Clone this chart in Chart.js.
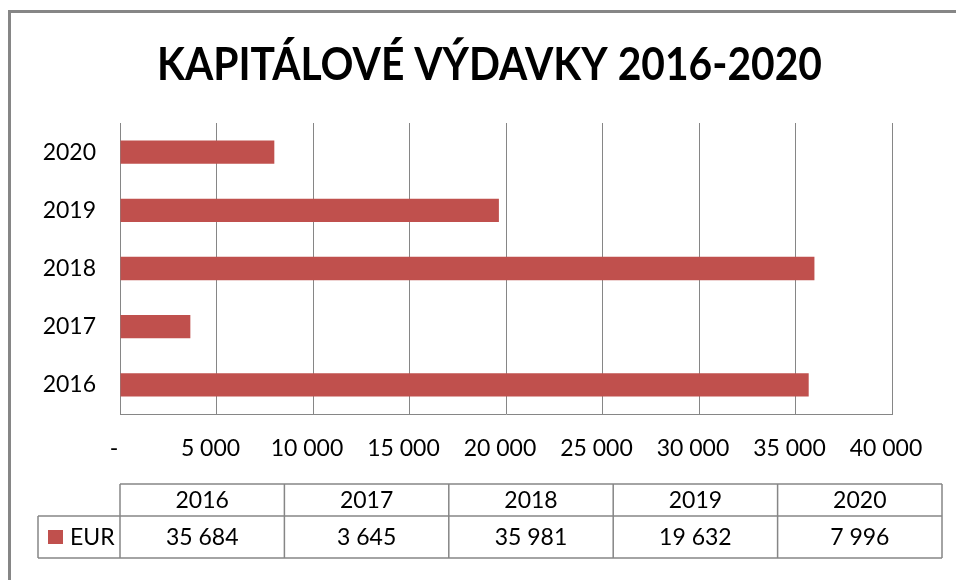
<!DOCTYPE html>
<html lang="sk">
<head>
  <meta charset="UTF-8">
  <title>Kapitálové výdavky 2016-2020</title>
  <script src="https://cdn.jsdelivr.net/npm/chart.js"></script>
  <style>
    * { box-sizing: border-box; }
    body { margin:0; padding:0; background:#fff; }
    #wrap { position:relative; width:956px; height:580px; }
  </style>
</head>
<body>
  <div id="wrap"><canvas id="chart"></canvas></div>

  <script>
    // data
    const title = 'KAPITÁLOVÉ VÝDAVKY 2016-2020';
    const years = ['2016', '2017', '2018', '2019', '2020'];
    const eur = [35684, 3645, 35981, 19632, 7996];
    const seriesName = 'EUR';
    const xMax = 40000;
    const xStep = 5000;

    const barColor = '#C0504D';
    const lineColor = '#868686';
    const font = 'Lato, "Open Sans", sans-serif';

    const fmt = v => v === 0 ? '-' : String(v).replace(/\B(?=(\d{3})+(?!\d))/g, ' ');

    // outer frame + title
    const framePlugin = {
      id: 'frame',
      beforeDraw(chart) {
        const c = chart.ctx;
        c.save();
        c.fillStyle = '#fff';
        c.fillRect(0, 0, chart.width, chart.height);
        c.strokeStyle = lineColor;
        c.lineWidth = 3;
        c.strokeRect(9.5, 11.5, 2000, 2000);
        c.restore();
      },
      afterDraw(chart) {
        const c = chart.ctx;
        c.save();
        c.font = 'bold 45px ' + font;
        c.fillStyle = '#000';
        c.textBaseline = 'alphabetic';
        const w = c.measureText(title).width;
        const target = 665;
        c.translate(157, 80);
        c.scale(target / w, 1);
        c.fillText(title, 0, 0);
        c.restore();
      }
    };

    // data table under the axis
    const tablePlugin = {
      id: 'datatable',
      afterDraw(chart) {
        const c = chart.ctx;
        const left = chart.chartArea.left;
        const right = 942;
        const top = 484, mid = 516, bottom = 558;
        const legLeft = 38;
        const n = chart.data.labels.length;
        const colW = (right - left) / n;
        const ds = chart.data.datasets[0];

        c.save();
        c.strokeStyle = lineColor;
        c.lineWidth = 1.5;
        c.beginPath();
        c.moveTo(left, top); c.lineTo(right, top);
        c.moveTo(legLeft, mid); c.lineTo(right, mid);
        c.moveTo(legLeft, bottom); c.lineTo(right, bottom);
        c.moveTo(legLeft, mid); c.lineTo(legLeft, bottom);
        for (let i = 0; i <= n; i++) {
          const x = left + colW * i;
          c.moveTo(x, top); c.lineTo(x, bottom);
        }
        c.stroke();

        c.fillStyle = '#000';
        c.font = '23px ' + font;
        c.textAlign = 'center';
        c.textBaseline = 'middle';
        for (let i = 0; i < n; i++) {
          const x = left + colW * (i + 0.5);
          c.fillText(chart.data.labels[i], x, (top + mid) / 2 + 1);
          c.fillText(fmt(ds.data[i]), x, (mid + bottom) / 2 + 1);
        }

        c.fillStyle = ds.backgroundColor;
        c.fillRect(48, 530, 15, 14);
        c.fillStyle = '#000';
        c.textAlign = 'left';
        c.fillText(ds.label, 70, (mid + bottom) / 2 + 1);
        c.restore();
      }
    };

    new Chart(document.getElementById('chart'), {
      type: 'bar',
      data: {
        labels: years,
        datasets: [{
          label: seriesName,
          data: eur,
          backgroundColor: barColor,
          barPercentage: 0.4,
          categoryPercentage: 1
        }]
      },
      options: {
        indexAxis: 'y',
        responsive: true,
        maintainAspectRatio: false,
        animation: false,
        layout: { padding: { top: 123, right: 64, left: 0, bottom: 0 } },
        plugins: {
          legend: { display: false },
          title: { display: false },
          tooltip: { enabled: false }
        },
        scales: {
          x: {
            min: 0, max: xMax,
            ticks: {
              stepSize: xStep,
              padding: 21,
              labelOffset: -6,
              color: '#000',
              font: { family: font, size: 23 },
              callback: v => fmt(v),
              maxRotation: 0
            },
            grid: { color: lineColor, lineWidth: 1, drawTicks: false },
            border: { display: true, color: lineColor, width: 1 },
            afterFit: s => { s.height = 166; }
          },
          y: {
            reverse: true,
            ticks: {
              padding: 24,
              color: '#000',
              font: { family: font, size: 23 }
            },
            grid: { display: false, drawTicks: false },
            border: { display: true, color: lineColor, width: 1 },
            afterFit: s => { s.width = 120; }
          }
        }
      },
      plugins: [framePlugin, tablePlugin]
    });
  </script>
</body>
</html>
